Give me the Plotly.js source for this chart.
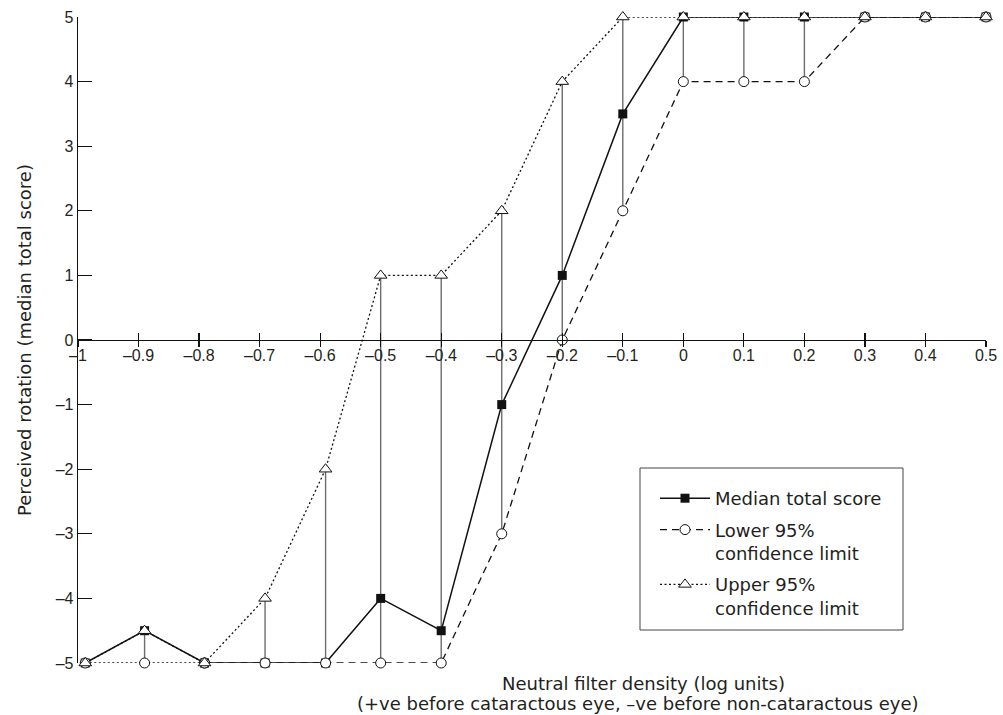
<!DOCTYPE html>
<html>
<head>
<meta charset="utf-8">
<script src="https://cdn.plot.ly/plotly-3.0.1.min.js"></script>
<style>
  html, body { margin: 0; padding: 0; background: #fff; }
  #chart { width: 1003px; height: 715px; }
</style>
</head>
<body>
<div id="chart"></div>
<script>
// ---- data ----
const filterDensity = [-0.988, -0.89, -0.791, -0.691, -0.591, -0.5, -0.4, -0.3, -0.2, -0.1, 0, 0.1, 0.2, 0.3, 0.4, 0.5];
const medianScore   = [-5, -4.5, -5, -5, -5, -4, -4.5, -1, 1, 3.5, 5, 5, 5, 5, 5, 5];
const lowerLimit    = [-5, -5, -5, -5, -5, -5, -5, -3, 0, 2, 4, 4, 4, 5, 5, 5];
const upperLimit    = [-5, -4.5, -5, -4, -2, 1, 1, 2, 4, 5, 5, 5, 5, 5, 5, 5];

const xTickVals  = [-1, -0.9, -0.8, -0.7, -0.6, -0.5, -0.4, -0.3, -0.2, -0.1, 0, 0.1, 0.2, 0.3, 0.4, 0.5];
const xTickText  = ['\u20131', '\u20130.9', '\u20130.8', '\u20130.7', '\u20130.6', '\u20130.5', '\u20130.4', '\u20130.3', '\u20130.2', '\u20130.1', '0', '0.1', '0.2', '0.3', '0.4', '0.5'];
const yTickVals  = [-5, -4, -3, -2, -1, 0, 1, 2, 3, 4, 5];
const yTickText  = ['\u20135', '\u20134', '\u20133', '\u20132', '\u20131', '0', '1', '2', '3', '4', '5'];

const seriesNames = ['Median total score', 'Lower 95%<br>confidence limit', 'Upper 95%<br>confidence limit'];

// ---- derived ----
const spanUp = upperLimit.map((u, i) => u - lowerLimit[i]);
const zeros = upperLimit.map(() => 0);

const titleFont = { family: 'DejaVu Sans, sans-serif', size: 18, color: '#231f20' };
const tickFont = { family: 'Liberation Sans, Arial, sans-serif', size: 16, color: '#231f20' };

const traces = [
  { // vertical connectors between lower and upper limits
    x: filterDensity, y: lowerLimit, type: 'scatter', mode: 'markers',
    marker: { color: 'rgba(0,0,0,0)', size: 1 },
    error_y: { type: 'data', symmetric: false, array: spanUp, arrayminus: zeros, color: '#6d6d6d', thickness: 1.4, width: 0 },
    showlegend: false, hoverinfo: 'skip', cliponaxis: false
  },
  {
    name: seriesNames[0], legendgroup: 'm', x: filterDensity, y: medianScore, type: 'scatter', mode: 'lines+markers',
    line: { color: '#111', width: 1.5 },
    marker: { symbol: 'square', size: 9, color: '#111', line: { color: '#111', width: 0 } },
    cliponaxis: false
  },
  { // first lower segment (drawn dotted in the reference)
    x: filterDensity.slice(0, 3), y: lowerLimit.slice(0, 3), type: 'scatter', mode: 'lines+markers',
    line: { color: '#111', width: 1.3, dash: '2px,2.5px' },
    marker: { symbol: 'circle', size: 10, color: '#fff', line: { color: '#111', width: 1 } },
    showlegend: false, cliponaxis: false
  },
  {
    name: seriesNames[1], legendgroup: 'l', x: filterDensity.slice(2), y: lowerLimit.slice(2), type: 'scatter', mode: 'lines+markers',
    line: { color: '#111', width: 1.3, dash: '7px,5px' },
    marker: { symbol: 'circle', size: 10, color: '#fff', line: { color: '#111', width: 1 } },
    cliponaxis: false
  },
  {
    name: seriesNames[2], legendgroup: 'u', x: filterDensity, y: upperLimit, type: 'scatter', mode: 'lines+markers',
    line: { color: '#111', width: 1.3, dash: '2px,2.5px' },
    marker: { symbol: 'triangle-up', size: 11, color: '#fff', line: { color: '#111', width: 1 } },
    cliponaxis: false
  },
  { // carrier for the lower half of the crossing x ticks
    x: [xTickVals[0]], y: [0], xaxis: 'x2', type: 'scatter', mode: 'markers',
    marker: { color: 'rgba(0,0,0,0)', size: 1 }, showlegend: false, hoverinfo: 'skip'
  }
];

const L = 78, R = 17, T = 17, B = 52;
const PW = 1003 - L - R, PH = 715 - T - B;
const px = v => (v - L) / PW;
const py = v => (715 - B - v) / PH;

const layout = {
  width: 1003, height: 715,
  margin: { l: L, r: R, t: T, b: B, pad: 0 },
  paper_bgcolor: '#fff', plot_bgcolor: '#fff',
  showlegend: true,
  xaxis: {
    range: [-1, 0.5], anchor: 'free', position: 0.5,
    showgrid: false, zeroline: false, showline: true, linecolor: '#111', linewidth: 1.3,
    ticks: 'inside', ticklen: 7, tickwidth: 1.2, tickcolor: '#111',
    tickmode: 'array', tickvals: xTickVals, ticktext: xTickText, tickfont: tickFont
  },
  xaxis2: {
    range: [-1, 0.5], overlaying: 'x', anchor: 'free', position: 0.5,
    showgrid: false, zeroline: false, showline: false,
    ticks: 'outside', ticklen: 6, tickwidth: 1.2, tickcolor: '#111',
    tickmode: 'array', tickvals: xTickVals, showticklabels: false
  },
  yaxis: {
    range: [-5, 5], showgrid: false, zeroline: false, showline: true, linecolor: '#111', linewidth: 1.3,
    ticks: 'inside', ticklen: 14, tickwidth: 1.2, tickcolor: '#111',
    tickmode: 'array', tickvals: yTickVals, ticktext: yTickText, tickfont: tickFont
  },
  legend: {
    x: px(655), y: py(480), xanchor: 'left', yanchor: 'top',
    bgcolor: 'rgba(0,0,0,0)', borderwidth: 0, tracegroupgap: 5,
    font: titleFont, itemwidth: 50, valign: 'top', traceorder: 'grouped'
  },
  shapes: [
    { type: 'rect', xref: 'paper', yref: 'paper', x0: px(640), x1: px(903), y0: py(630), y1: py(468),
      line: { color: '#444', width: 1 }, fillcolor: 'rgba(0,0,0,0)', layer: 'below' }
  ],
  annotations: [
    { text: 'Perceived rotation (median total score)', xref: 'paper', yref: 'paper', x: px(24), y: 0.5,
      xanchor: 'center', yanchor: 'middle', textangle: -90, showarrow: false, font: titleFont },
    { text: 'Neutral filter density (log units)', xref: 'paper', yref: 'paper', x: px(643), y: py(683),
      xanchor: 'center', yanchor: 'middle', showarrow: false, font: titleFont },
    { text: '(+ve before cataractous eye, \u2013ve before non-cataractous eye)', xref: 'paper', yref: 'paper', x: px(638), y: py(703),
      xanchor: 'center', yanchor: 'middle', showarrow: false, font: titleFont }
  ]
};

Plotly.newPlot('chart', traces, layout, { displayModeBar: false, staticPlot: true });
</script>
</body>
</html>
